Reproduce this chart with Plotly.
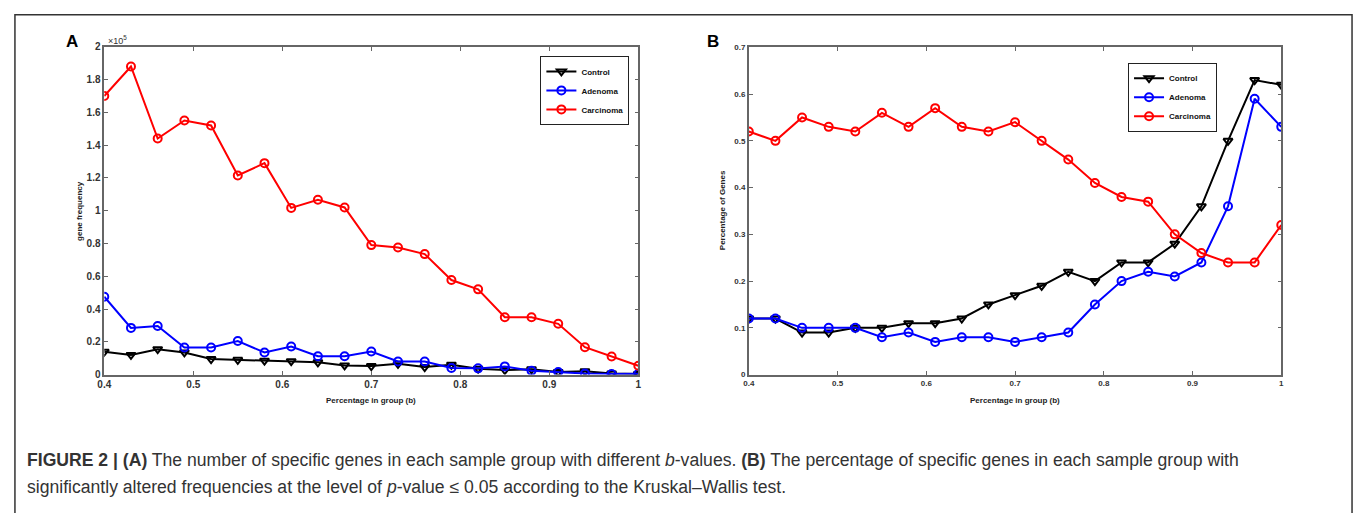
import plotly.graph_objects as go

W, H = 1360, 513

b_values = [0.40, 0.43, 0.46, 0.49, 0.52, 0.55, 0.58, 0.61, 0.64, 0.67, 0.70,
            0.73, 0.76, 0.79, 0.82, 0.85, 0.88, 0.91, 0.94, 0.97, 1.00]

# Panel A: gene frequency (counts)
freq_control = [14000, 12000, 15500, 13500, 9500, 9000, 8500, 8200, 7500, 5600, 5200,
                6600, 4600, 6000, 3600, 2800, 3200, 1600, 2000, 600, 400]
freq_adenoma = [47500, 28500, 29700, 16500, 16500, 20500, 13500, 17100, 11200, 11200, 14100,
                8000, 8000, 4000, 3800, 5000, 2400, 1600, 600, 400, 500]
freq_carcinoma = [170000, 188000, 144000, 155000, 152000, 121500, 129000, 101700, 106700, 102000, 79000,
                  77500, 73500, 57700, 52000, 35000, 35000, 31000, 16700, 11000, 5400]

# Panel B: percentage of genes
pct_control = [0.12, 0.12, 0.09, 0.09, 0.10, 0.10, 0.11, 0.11, 0.12, 0.15, 0.17,
               0.19, 0.22, 0.20, 0.24, 0.24, 0.28, 0.36, 0.50, 0.63, 0.62]
pct_adenoma = [0.12, 0.12, 0.10, 0.10, 0.10, 0.08, 0.09, 0.07, 0.08, 0.08, 0.07,
               0.08, 0.09, 0.15, 0.20, 0.22, 0.21, 0.24, 0.36, 0.59, 0.53]
pct_carcinoma = [0.52, 0.50, 0.55, 0.53, 0.52, 0.56, 0.53, 0.57, 0.53, 0.52, 0.54,
                 0.50, 0.46, 0.41, 0.38, 0.37, 0.30, 0.26, 0.24, 0.24, 0.32]

series_names = ["Control", "Adenoma", "Carcinoma"]
series_colors = ["#000000", "#0000ff", "#ff0000"]
series_symbols = ["triangle-down-open", "circle-open", "circle-open"]

x_ticks = [0.4, 0.5, 0.6, 0.7, 0.8, 0.9, 1.0]
x_ticktext = ["0.4", "0.5", "0.6", "0.7", "0.8", "0.9", "1"]
a_ticks = [0, 20000, 40000, 60000, 80000, 100000, 120000, 140000, 160000, 180000, 200000]
a_ticktext = ["0", "0.2", "0.4", "0.6", "0.8", "1", "1.2", "1.4", "1.6", "1.8", "2"]
b_ticks = [0, 0.1, 0.2, 0.3, 0.4, 0.5, 0.6, 0.7]
b_ticktext = ["0", "0.1", "0.2", "0.3", "0.4", "0.5", "0.6", "0.7"]

fig = go.Figure()

for name, col, sym, ya in zip(series_names, series_colors, series_symbols,
                              [freq_control, freq_adenoma, freq_carcinoma]):
    fig.add_trace(go.Scatter(
        x=b_values, y=ya, name=name, mode="lines+markers",
        line=dict(color=col, width=2),
        marker=dict(symbol=sym, size=8, color=col, line=dict(width=2, color=col)),
        xaxis="x", yaxis="y", legend="legend"))

for name, col, sym, yb in zip(series_names, series_colors, series_symbols,
                              [pct_control, pct_adenoma, pct_carcinoma]):
    fig.add_trace(go.Scatter(
        x=b_values, y=yb, name=name, mode="lines+markers",
        line=dict(color=col, width=2),
        marker=dict(symbol=sym, size=8, color=col, line=dict(width=2, color=col)),
        xaxis="x2", yaxis="y2", legend="legend2"))

axis_common = dict(showline=True, linecolor="#666666", linewidth=1.5, mirror="ticks",
                   ticks="inside", ticklen=4, tickcolor="#666666", showgrid=False,
                   zeroline=False)

tickA = dict(family="Arial, Liberation Sans, sans-serif", size=10, color="#333333", weight="bold")
tickB = dict(family="Arial, Liberation Sans, sans-serif", size=8, color="#333333", weight="bold")

yA0, yA1 = 1 - 377.7 / H, 1 - 42.7 / H
yB0, yB1 = 1 - 377.7 / H, 1 - 43.3 / H

fig.update_layout(
    width=W, height=H,
    margin=dict(l=0, r=0, t=0, b=0),
    paper_bgcolor="white", plot_bgcolor="white",
    showlegend=True,
    xaxis=dict(domain=[98 / W, 636 / W], range=[0.4, 1.0], tickvals=x_ticks,
               ticktext=x_ticktext, tickfont=tickA, anchor="y", **axis_common),
    yaxis=dict(domain=[yA0, yA1], range=[0, 200000], tickvals=a_ticks,
               ticktext=a_ticktext, tickfont=tickA, anchor="x", **axis_common),
    xaxis2=dict(domain=[747.3 / W, 1283.7 / W], range=[0.4, 1.0], tickvals=x_ticks,
                ticktext=x_ticktext, tickfont=tickB, anchor="y2", **axis_common),
    yaxis2=dict(domain=[yB0, yB1], range=[0, 0.7], tickvals=b_ticks,
                ticktext=b_ticktext, tickfont=tickB, anchor="x2", **axis_common),
    legend=dict(x=627 / W, y=1 - 52 / H, xanchor="right", yanchor="top",
                bgcolor="white", bordercolor="#222222", borderwidth=1,
                font=dict(family="Arial, Liberation Sans, sans-serif", size=8,
                          color="#111111", weight="bold"),
                itemwidth=30, tracegroupgap=0),
    legend2=dict(x=1219 / W, y=1 - 59 / H, xanchor="right", yanchor="top",
                 bgcolor="white", bordercolor="#222222", borderwidth=1,
                 font=dict(family="Arial, Liberation Sans, sans-serif", size=8,
                           color="#111111", weight="bold"),
                 itemwidth=30, tracegroupgap=0),
)

small_bold = dict(family="Arial, Liberation Sans, sans-serif", size=8, color="#222222", weight="bold")
annots = [
    dict(text="A", x=65 / W, y=1 - 37 / H, font=dict(family="Arial, Liberation Sans, sans-serif", size=17, color="black", weight="bold")),
    dict(text="B", x=711 / W, y=1 - 37 / H, font=dict(family="Arial, Liberation Sans, sans-serif", size=17, color="black", weight="bold")),
    dict(text="×10<sup>5</sup>", x=100 / W, y=1 - 36 / H, xanchor="left",
         font=dict(family="Arial, Liberation Sans, sans-serif", size=9, color="#333333")),
    dict(text="Percentage in group (b)", x=367 / W, y=1 - 404 / H, font=small_bold),
    dict(text="Percentage in group (b)", x=1015.5 / W, y=1 - 404 / H, font=small_bold),
    dict(text="gene frequency", x=73 / W, y=1 - 210 / H, textangle=-90, font=small_bold),
    dict(text="Percentage of Genes", x=721 / W, y=1 - 210 / H, textangle=-90, font=small_bold),
]
cap_font = dict(family="Liberation Sans, Arial, sans-serif", size=17.6, color="#333333")
annots += [
    dict(text="<b>FIGURE 2 | (A)</b> The number of specific genes in each sample group with different <i>b</i>-values. "
              "<b>(B)</b> The percentage of specific genes in each sample group with",
         x=18 / W, y=1 - 465 / H, xanchor="left", font=cap_font),
    dict(text="significantly altered frequencies at the level of <i>p</i>-value ≤ 0.05 according to the Kruskal–Wallis test.",
         x=18 / W, y=1 - 493 / H, xanchor="left", font=cap_font),
]
for a in annots:
    a.setdefault("xanchor", "center")
    a.update(xref="paper", yref="paper", showarrow=False, yanchor="middle")
fig.update_layout(annotations=annots)

fig.add_shape(type="rect", xref="paper", yref="paper",
              x0=8 / W, x1=1355 / W, y0=-0.05, y1=1 - 10 / H,
              line=dict(color="#333333", width=1.5), fillcolor="rgba(0,0,0,0)")

fig.write_html("out.html")
